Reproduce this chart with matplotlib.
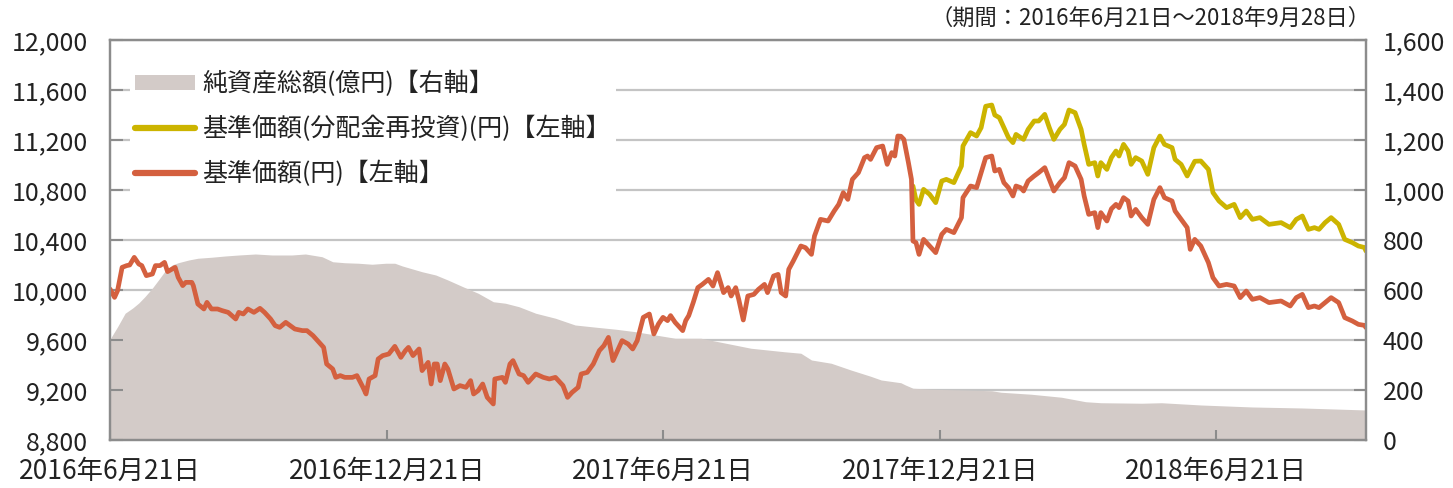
import matplotlib
matplotlib.use("Agg")
import matplotlib.pyplot as plt
from matplotlib.patches import Patch
from matplotlib.lines import Line2D
from matplotlib.ticker import FuncFormatter, MultipleLocator
import pandas as pd

plt.rcParams["font.family"] = ["Noto Sans CJK JP", "DejaVu Sans"]

start = pd.Timestamp("2016-06-21")
end = pd.Timestamp("2018-09-28")

# days counted from 2016-06-21
nav_day = [0, 3, 5, 8, 11, 13, 16, 19, 21, 24, 28, 30, 33, 36, 38, 41, 43, 45, 48, 50,
           54, 55, 58, 62, 64, 67, 71, 74, 78, 83, 85, 88, 91, 95, 99, 102, 106, 109, 112, 116,
           119, 122, 127, 130, 134, 137, 141, 143, 147, 149, 152, 155, 160, 163, 167, 169, 171, 175, 177, 180,
           184, 188, 192, 195, 197, 200, 204, 206, 210, 212, 214, 216, 218, 221, 223, 227, 231, 235, 238, 240,
           243, 246, 249, 253, 254, 259, 261, 264, 266, 270, 273, 276, 281, 286, 290, 294, 299, 302, 305, 309,
           311, 315, 319, 323, 326, 329, 332, 335, 338, 342, 345, 348, 352, 356, 359, 362, 365, 368, 370, 373,
           378, 380, 382, 385, 388, 391, 395, 398, 401, 405, 408, 410, 413, 415, 418, 421, 425, 428, 432, 434,
           438, 441, 443, 446, 448, 451, 456, 459, 463, 465, 469, 474, 478, 481, 484, 487, 490, 494, 498, 500,
           502, 506, 510, 513, 516, 518, 520, 522, 524, 527, 529,
           530, 532, 534, 537, 541, 545, 549, 552, 557, 562,
           563, 568, 572, 575, 578, 582, 584, 587, 590, 593,
           596, 598, 601, 603, 606, 610, 613, 617, 620, 623,
           627, 630, 633, 637, 641, 643, 646, 650, 652, 654,
           658, 661, 664, 666, 669, 672, 674, 677, 681, 685,
           689, 693, 696, 701, 703, 707, 711, 713, 716, 720,
           725, 728, 732, 737, 742, 746, 750, 754, 759, 765,
           773, 779, 783, 787, 791, 795, 798, 802, 806, 811,
           815, 820, 824, 828, 829]

nav = [10008, 9941, 9995, 10181, 10195, 10200, 10261, 10208, 10195, 10115, 10128, 10195, 10195, 10221, 10147, 10168, 10181, 10101, 10035, 10061,
       10061, 10035, 9888, 9848, 9901, 9848, 9848, 9835, 9821, 9768, 9821, 9808, 9848, 9821, 9853, 9821, 9768, 9715, 9701, 9741,
       9715, 9688, 9675, 9675, 9635, 9595, 9541, 9408, 9368, 9301, 9315, 9301, 9301, 9315, 9221, 9168, 9288, 9315, 9448, 9475,
       9488, 9549, 9461, 9515, 9541, 9475, 9528, 9355, 9421, 9248, 9408, 9408, 9275, 9408, 9368, 9208, 9235, 9221, 9275, 9168,
       9195, 9248, 9141, 9088, 9288, 9301, 9261, 9408, 9435, 9328, 9315, 9261, 9328, 9301, 9288, 9301, 9235, 9141, 9181, 9221,
       9328, 9341, 9408, 9515, 9555, 9621, 9435, 9515, 9595, 9568, 9528, 9595, 9781, 9808, 9648, 9728, 9781, 9755, 9795, 9741,
       9675, 9755, 9795, 9901, 10019, 10045, 10085, 10032, 10139, 9979, 10019, 9952, 10019, 9925, 9760, 9952, 9965, 10005, 10045, 9979,
       10112, 10125, 9979, 9952, 10165, 10232, 10352, 10339, 10285, 10432, 10565, 10552, 10632, 10685, 10779, 10725, 10885, 10939, 11059, 11072,
       11045, 11139, 11152, 11005, 11099, 11072, 11232, 11230, 11205, 11019, 10885,
       10392, 10379, 10285, 10405, 10352, 10299, 10445, 10485, 10459, 10579,
       10739, 10832, 10819, 10939, 11059, 11072, 10952, 10965, 10859, 10819,
       10752, 10832, 10819, 10792, 10872, 10912, 10939, 10979, 10885, 10792,
       10859, 10899, 11019, 10992, 10885, 10752, 10605, 10619, 10499, 10619,
       10552, 10650, 10685, 10659, 10739, 10712, 10592, 10645, 10579, 10525,
       10725, 10819, 10739, 10712, 10632, 10565, 10499, 10325, 10405, 10352,
       10219, 10099, 10032, 10045, 10032, 9939, 9992, 9925, 9939, 9899,
       9912, 9872, 9939, 9965, 9859, 9872, 9859, 9899, 9939, 9899,
       9779, 9752, 9725, 9717, 9699]

# reinvested NAV, same days as the last entries of nav_day
reinvest = [10832, 10720, 10685, 10805, 10765, 10699, 10872, 10885, 10859, 10992,
            11152, 11259, 11232, 11299, 11470, 11480, 11400, 11379, 11300, 11220,
            11179, 11245, 11220, 11205, 11285, 11352, 11352, 11405, 11299, 11205,
            11285, 11325, 11440, 11419, 11285, 11165, 11005, 11019, 10912, 11019,
            10965, 11060, 11112, 11072, 11165, 11112, 11005, 11059, 11032, 10925,
            11139, 11232, 11165, 11139, 11045, 11005, 10912, 10960, 11030, 11032,
            10965, 10780, 10712, 10659, 10685, 10579, 10632, 10565, 10579, 10525,
            10539, 10499, 10565, 10592, 10485, 10499, 10485, 10539, 10579, 10525,
            10405, 10379, 10352, 10340, 10312]

asset_day = [0, 1, 5, 10, 15, 19, 23, 28, 32, 36, 41, 45, 52, 58, 67, 76, 85, 96, 107, 120,
             129, 140, 147, 155, 164, 173, 182, 188, 193, 206, 215, 223, 233, 243, 253, 261, 270, 281, 294, 307,
             321, 334, 347, 360, 373, 390, 423, 445, 456, 463, 476, 489, 502, 509, 522, 525, 530, 542, 562, 582,
             588, 608, 628, 644, 654, 681, 694, 720, 754, 787, 829]
assets = [400, 413, 453, 507, 528, 548, 573, 608, 640, 673, 700, 709, 720, 727, 731, 736, 740, 744, 740, 740,
          744, 733, 713, 709, 707, 703, 707, 707, 696, 673, 660, 640, 613, 587, 553, 547, 533, 507, 487, 460,
          451, 443, 433, 420, 407, 407, 367, 353, 347, 320, 307, 280, 255, 240, 229, 220, 207, 203, 200, 197,
          191, 183, 171, 153, 149, 147, 149, 140, 132, 128, 120]

tick_dates = ["2016-06-21", "2016-12-21", "2017-06-21", "2017-12-21", "2018-06-21"]
tick_labels = ["2016年6月21日", "2016年12月21日", "2017年6月21日", "2017年12月21日", "2018年6月21日"]

nav_dates = start + pd.to_timedelta(nav_day, unit="D")
asset_dates = start + pd.to_timedelta(asset_day, unit="D")
reinvest_dates = nav_dates[-len(reinvest):]

RED = "#d4603f"
YELLOW = "#ccb400"
AREA = "#d3cbc8"
SPINE = "#8c8c8c"
GRID = "#c4c4c4"
TEXT = "#222222"

fig = plt.figure(figsize=(14.53, 4.88), dpi=100)
ax = fig.add_axes([0.0757, 0.0984, 0.8644, 0.8196])
ax_r = ax.twinx()
ax.set_zorder(ax_r.get_zorder() + 1)
ax.patch.set_visible(False)

# net assets on the right axis, drawn under the lines
ax_r.fill_between(asset_dates, assets, 0, color=AREA, linewidth=0, zorder=2)
ax_r.set_ylim(0, 1600)
ax_r.yaxis.set_major_locator(MultipleLocator(200))
ax_r.yaxis.set_major_formatter(FuncFormatter(lambda v, p: f"{v:,.0f}"))
ax_r.grid(axis="y", color=GRID, linewidth=1.6)
ax_r.set_axisbelow(True)

ax.plot(reinvest_dates, reinvest, color=YELLOW, linewidth=3.4, solid_capstyle="round")
ax.plot(nav_dates, nav, color=RED, linewidth=3.4, solid_capstyle="round")
ax.set_ylim(8800, 12000)
ax.yaxis.set_major_locator(MultipleLocator(400))
ax.yaxis.set_major_formatter(FuncFormatter(lambda v, p: f"{v:,.0f}"))
ax.set_xlim(start, end)
ax.set_xticks(pd.to_datetime(tick_dates))
ax.set_xticklabels(tick_labels)

for a in (ax, ax_r):
    for s in a.spines.values():
        s.set_color(SPINE)
        s.set_linewidth(1.6)

ax.tick_params(axis="x", direction="in", length=7, width=1.5, color=SPINE,
               labelsize=19, pad=13, labelcolor=TEXT)
ax.tick_params(axis="y", direction="in", length=9, width=1.5, color=SPINE,
               labelsize=18, pad=16, labelcolor=TEXT)
ax_r.tick_params(axis="y", direction="in", length=9, width=1.5, color=SPINE,
                 labelsize=18, pad=12, labelcolor=TEXT)

handles = [
    Patch(facecolor=AREA, edgecolor="none"),
    Line2D([], [], color=YELLOW, linewidth=4.5, solid_capstyle="round"),
    Line2D([], [], color=RED, linewidth=4.5, solid_capstyle="round"),
]
labels = ["純資産総額(億円)【右軸】", "基準価額(分配金再投資)(円)【左軸】", "基準価額(円)【左軸】"]
leg = ax.legend(handles, labels, loc="upper left", bbox_to_anchor=(0.008, 0.96),
                frameon=True, fancybox=False, edgecolor="none", facecolor="white",
                framealpha=1.0, fontsize=18, handlelength=2.4, handleheight=0.55,
                labelspacing=0.75, borderpad=0.2, borderaxespad=0.4, handletextpad=0.3,
                labelcolor=TEXT)
leg.set_zorder(5)

fig.text(0.943, 0.962, "（期間：2016年6月21日～2018年9月28日）", ha="right", va="center",
         fontsize=16, color=TEXT)

fig.savefig("out.png", dpi=100)
